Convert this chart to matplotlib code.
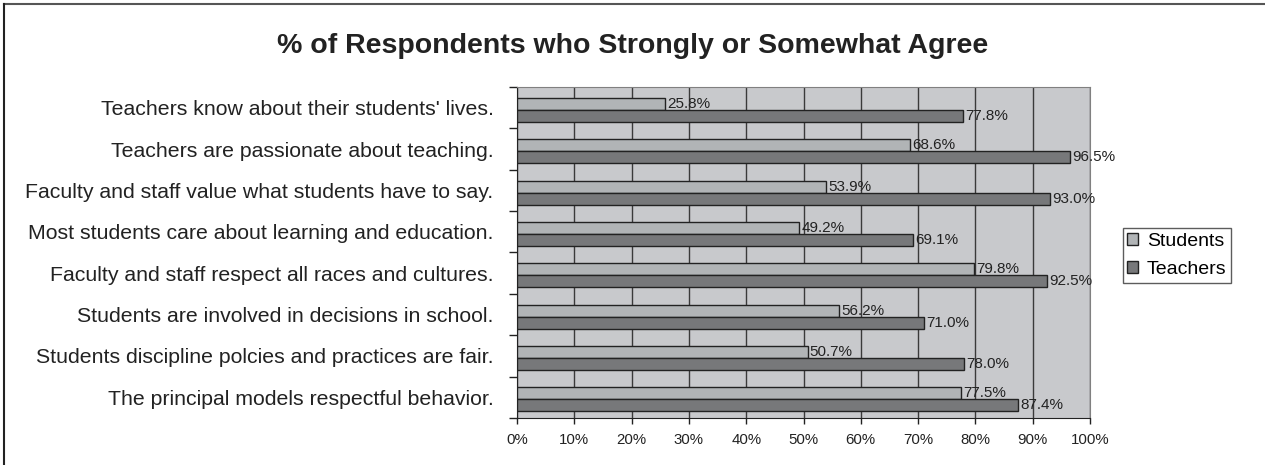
import numpy as np
import matplotlib.pyplot as plt
from matplotlib.lines import Line2D

plt.rcParams['font.family'] = ['Liberation Sans', 'DejaVu Sans']

# survey statements, top to bottom
statements = [
    "Teachers know about their students' lives.",
    "Teachers are passionate about teaching.",
    "Faculty and staff value what students have to say.",
    "Most students care about learning and education.",
    "Faculty and staff respect all races and cultures.",
    "Students are involved in decisions in school.",
    "Students discipline polcies and practices are fair.",
    "The principal models respectful behavior.",
]
students = [25.8, 68.6, 53.9, 49.2, 79.8, 56.2, 50.7, 77.5]
teachers = [77.8, 96.5, 93.0, 69.1, 92.5, 71.0, 78.0, 87.4]
xticks = np.arange(0, 101, 10)

fig = plt.figure(figsize=(12.65, 4.65), dpi=100)
ax = fig.add_axes([517 / 1265, 1 - 418 / 465, 573 / 1265, 331 / 465])

y = np.arange(len(statements))
h = 0.29
off = 0.05
ax.barh(y - h / 2 + off, students, height=h, color='#b1b4b6',
        edgecolor='#222222', linewidth=1.0, label='Students', zorder=3)
ax.barh(y + h / 2 + off, teachers, height=h, color='#77787a',
        edgecolor='#222222', linewidth=1.0, label='Teachers', zorder=3)

for yi, v in zip(y, students):
    ax.text(v + 0.4, yi - h / 2 + off, f'{v:.1f}%', va='center', ha='left',
            fontsize=11, color='#222222', zorder=4)
for yi, v in zip(y, teachers):
    ax.text(v + 0.4, yi + h / 2 + off, f'{v:.1f}%', va='center', ha='left',
            fontsize=11, color='#222222', zorder=4)

ax.set_xlim(0, 100)
ax.set_ylim(len(statements) - 0.5, -0.5)
ax.set_facecolor('#c8c9cc')
ax.set_xticks(xticks)
ax.set_xticklabels([f'{t}%' for t in xticks], fontsize=10.8, color='#222222')
ax.xaxis.grid(True, color='#3a3a3a', linewidth=1.0, zorder=1)
ax.set_axisbelow(True)

ax.set_yticks(y)
ax.set_yticklabels(statements, fontsize=15.3, color='#222222')
ax.tick_params(axis='y', which='major', length=0, pad=17)
ax.set_yticks(np.arange(-0.5, len(statements), 1), minor=True)
ax.tick_params(axis='y', which='minor', length=6, width=1, color='#222222')
ax.tick_params(axis='x', length=4, width=1, color='#222222', pad=7)

for side in ['left', 'bottom']:
    ax.spines[side].set_color('#222222')
for side in ['top', 'right']:
    ax.spines[side].set_color('#808080')

fig.text(0.5, 1 - 46 / 465, '% of Respondents who Strongly or Somewhat Agree',
         ha='center', va='center', fontsize=20.5, fontweight='bold', color='#222222')

ax.legend(loc='center', bbox_to_anchor=(1177 / 1265, 1 - 255.5 / 465),
          bbox_transform=fig.transFigure, fontsize=14, frameon=True,
          fancybox=False, edgecolor='#333333', handlelength=0.55,
          handleheight=0.55, handletextpad=0.45, borderpad=0.25,
          labelspacing=0.55, borderaxespad=0)

# frame lines along the top and left edges
fig.add_artist(Line2D([4 / 1265, 1], [1 - 4 / 465, 1 - 4 / 465],
                      transform=fig.transFigure, color='#555555', linewidth=1.5))
fig.add_artist(Line2D([4 / 1265, 4 / 1265], [0, 1 - 4 / 465],
                      transform=fig.transFigure, color='#222222', linewidth=1.5))

fig.savefig('out.png', dpi=100)
